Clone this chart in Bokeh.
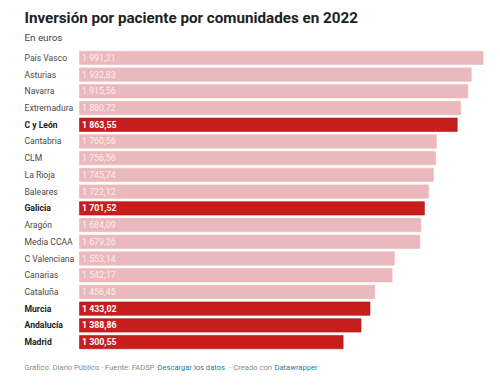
from bokeh.plotting import figure
from bokeh.models import ColumnDataSource, Label, Range1d
from bokeh.embed import file_html
from bokeh.resources import INLINE
from bokeh.core.properties import value

regions = ["País Vasco", "Asturias", "Navarra", "Extremadura", "C y León", "Cantabria",
           "CLM", "La Rioja", "Baleares", "Galicia", "Aragón", "Media CCAA",
           "C Valenciana", "Canarias", "Cataluña", "Murcia", "Andalucía", "Madrid"]
values = [1991.21, 1932.83, 1915.56, 1880.72, 1863.55, 1760.56,
          1756.56, 1745.74, 1722.12, 1701.52, 1684.09, 1679.26,
          1553.14, 1542.17, 1456.45, 1433.02, 1388.86, 1300.55]
highlighted = ["C y León", "Galicia", "Murcia", "Andalucía", "Madrid"]

DARK = "#c71e1d"
LIGHT = "#ebb9bb"

def fmt(v):
    return f"{v:,.2f}".replace(",", " ").replace(".", ",")

hl = [r in highlighted for r in regions]
src = ColumnDataSource(dict(
    region=regions,
    row=list(range(len(regions))),
    val=values,
    zero=[0] * len(values),
    label=[fmt(v) for v in values],
    color=[DARK if h else LIGHT for h in hl],
    line=["#a51716" if h else LIGHT for h in hl],
    style=["bold" if h else "normal" for h in hl],
    tcolor=["#222222" if h else "#494949" for h in hl],
    valcolor=["#ffffff" if h else "#fbeeee" for h in hl],
))

W, H = 500, 387
BAR_X0 = 79        # px where value 0 sits
PX_PER_UNIT = 0.2027
ROW_TOP = 49       # px of top of first row band
PITCH = 16.72      # px per row

p = figure(width=W, height=H, output_backend="svg", toolbar_location=None,
           x_range=Range1d(-BAR_X0 / PX_PER_UNIT, (W - BAR_X0) / PX_PER_UNIT),
           y_range=Range1d((H - ROW_TOP) / PITCH - 0.5, -ROW_TOP / PITCH - 0.5),
           min_border_left=0, min_border_right=0,
           min_border_top=0, min_border_bottom=0)
p.axis.visible = False
p.grid.visible = False
p.outline_line_color = None
p.background_fill_color = "white"
p.border_fill_color = "white"

p.hbar(y="row", right="val", left=0, height=0.8, source=src,
       fill_color="color", line_color="line", line_width=0.6)

p.text(x="zero", y="row", text="region", source=src, x_offset=-55,
       text_align="left", text_baseline="middle",
       text_font=value("Roboto"), text_font_size="8.6px",
       text_font_style="style", text_color="tcolor")
p.text(x="zero", y="row", text="label", source=src, x_offset=2.5,
       text_align="left", text_baseline="middle",
       text_font=value("Roboto"), text_font_size="8.8px",
       text_font_style="style", text_color="valcolor")

def lab(px, py, text, size, color, style="normal"):
    p.add_layout(Label(x=px, y=H - py, x_units="screen", y_units="screen",
                       text=text, text_font="Roboto", text_font_size=size,
                       text_color=color, text_font_style=style,
                       text_baseline="middle", text_align="left"))

lab(24, 17, "Inversión por paciente por comunidades en 2022", "15.2px", "#222222", "bold")
lab(24, 37, "En euros", "9.8px", "#444444")
grey = "#8a8a8a"
blue = "#1d81a2"
fs = "7.6px"
lab(24, 367, "Gráfico: Diario Público · Fuente: FADSP ·", fs, grey)
lab(157, 367, "Descargar los datos", fs, blue)
lab(229, 367, "· Creado con", fs, grey)
lab(274, 367, "Datawrapper", fs, blue)

open("out.html", "w").write(file_html(p, INLINE))
